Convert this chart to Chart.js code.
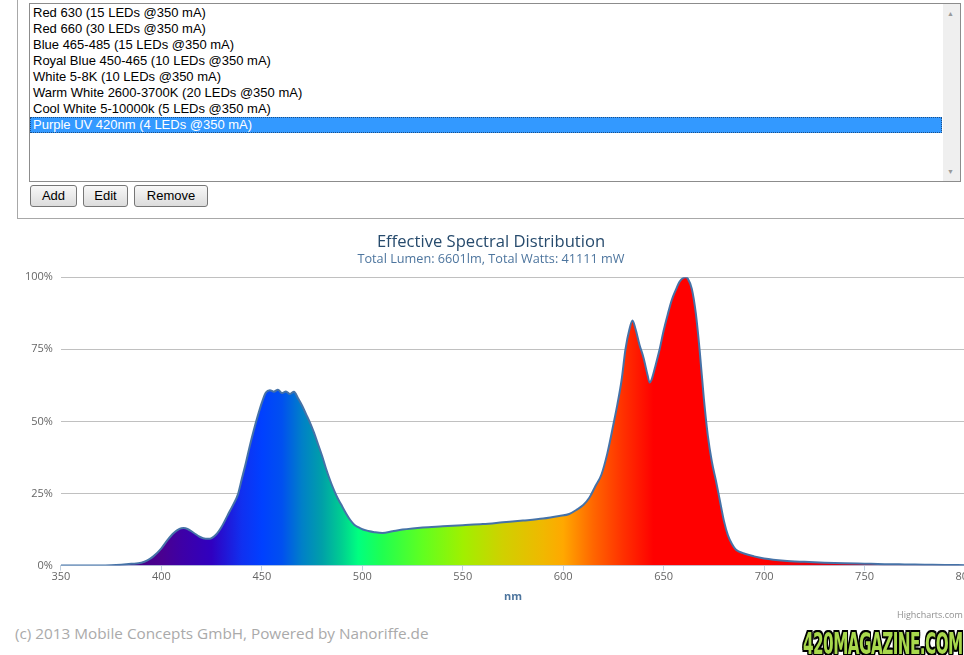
<!DOCTYPE html>
<html>
<head>
<meta charset="utf-8">
<script src="https://cdn.jsdelivr.net/npm/chart.js@4/dist/chart.umd.min.js"></script>
<style>
  html, body { margin: 0; padding: 0; width: 964px; height: 655px; overflow: hidden; background: #fff; }
  body { position: relative; font-family: "Liberation Sans", Arial, sans-serif; }
  .frame { position: absolute; left: 17px; top: -10px; width: 1000px; height: 227px; border: 1px solid #a8a8a8; }
  .listbox { position: absolute; left: 29px; top: 3px; width: 930px; height: 177px; border: 1px solid #8c8c8c; background: #fff; }
  .item { position: absolute; left: 0; width: 912px; height: 16px; line-height: 16px; font-size: 13px; color: #000; padding-left: 3px; white-space: nowrap; box-sizing: border-box; }
  .item.sel { background: #3399ff; color: #fff; border: 1px dotted #1d4f86; line-height: 14px; padding-left: 2px; }
  .scroll { position: absolute; right: 0; top: 0; width: 17px; height: 177px; background: #efefef; }
  .scroll span { position: absolute; left: 4px; font-size: 7px; color: #999; }
  .btn { position: absolute; top: 185px; height: 22px; box-sizing: border-box; border: 1px solid #767676; border-radius: 3px;
         background: linear-gradient(#f8f8f8, #dcdcdc); font-size: 13px; line-height: 20px; text-align: center; color: #000; }
  #wrap { position: absolute; left: 0; top: 226px; width: 990px; height: 394px; }
  .credits { position: absolute; left: 897px; top: 608px; font: 9px "Open Sans", sans-serif; color: #909090; white-space: nowrap; }
  .footer { position: absolute; left: 15px; top: 623px; font: 15.3px "Open Sans", sans-serif; color: #aaa; white-space: nowrap; }
  .logo { position: absolute; left: 803px; top: 626px; font: bold 30px "DejaVu Sans Condensed", "Liberation Sans Narrow", sans-serif;
          color: #a8d84c; letter-spacing: -1px; transform-origin: 0 0; transform: scaleX(0.565);
          text-shadow: -2px 0 #000, 2px 0 #000, 0 -2px #000, 0 2px #000, -2px -2px #000, 2px 2px #000, -2px 2px #000, 2px -2px #000; white-space: nowrap; }
</style>
</head>
<body>
<div class="frame"></div>
<div class="listbox" id="list">
  <div class="scroll"><span style="top:6px">&#9650;</span><span style="bottom:6px">&#9660;</span></div>
</div>
<div class="btn" style="left:30px;width:47px">Add</div>
<div class="btn" style="left:83px;width:45px">Edit</div>
<div class="btn" style="left:134px;width:74px">Remove</div>

<div id="wrap"><canvas id="spectrum" width="990" height="394"></canvas></div>
<div class="credits">Highcharts.com</div>
<div class="footer">(c) 2013 Mobile Concepts GmbH, Powered by Nanoriffe.de</div>
<div class="logo">420MAGAZINE.COM</div>

<script>
// LED list shown above the chart
const leds = [
  'Red 630 (15 LEDs @350 mA)',
  'Red 660 (30 LEDs @350 mA)',
  'Blue 465-485 (15 LEDs @350 mA)',
  'Royal Blue 450-465 (10 LEDs @350 mA)',
  'White 5-8K (10 LEDs @350 mA)',
  'Warm White 2600-3700K (20 LEDs @350 mA)',
  'Cool White 5-10000k (5 LEDs @350 mA)',
  'Purple UV 420nm (4 LEDs @350 mA)',
];
const selectedLed = 7;

// spectrum (nm / % of max)
const wavelengths = [350, 360, 370, 375, 380, 385, 390, 393, 396, 400, 403, 406, 409, 411, 413, 416, 419, 422, 424, 427,
  430, 433, 436, 438, 440, 442, 444, 446, 448, 450, 452, 454, 456, 458, 460, 462, 464, 466, 468, 470,
  472, 474, 476, 478, 480, 482, 484, 486, 488, 490, 492, 494, 496, 498, 500, 503, 506, 510, 515, 520,
  525, 530, 540, 550, 560, 570, 580, 590, 598, 603, 607, 610, 613, 616, 619, 622, 625, 627, 629, 631,
  633, 634.5, 636, 638, 640, 642, 643, 644, 646, 648, 650, 652, 654, 656, 658, 660, 661, 662, 664, 666,
  668, 670, 672, 674, 676, 678, 680, 682, 684, 686, 690, 695, 700, 710, 720, 730, 740, 750, 760, 770,
  780, 790, 800];
const intensity = [0, 0, 0, 0.1, 0.3, 0.6, 1.0, 1.8, 3.2, 6.0, 8.8, 11.2, 12.7, 13.0, 12.7, 11.4, 10.0, 9.3, 9.3, 10.6,
  13.5, 17.5, 21.5, 24.5, 30, 35.5, 41.5, 47, 52, 56.5, 60, 60.8, 60.3, 61, 59.8, 60.4, 59.5, 60.3, 58, 55.5,
  52.5, 49.5, 46, 42, 38, 33.5, 29.5, 26, 23, 20.5, 18, 15.8, 14.2, 13.3, 12.6, 12, 11.6, 11.3, 11.9, 12.5,
  12.9, 13.2, 13.6, 14, 14.4, 15, 15.6, 16.3, 17.2, 17.9, 19.5, 21, 23.5, 27.5, 31.5, 39, 49, 56, 64, 75,
  82, 85, 82, 76.5, 72, 66, 63.5, 64.5, 69.5, 75, 81.5, 87, 92, 95.5, 98.5, 99.8, 100, 99.5, 96, 87.5,
  74, 58, 45, 36, 29.5, 22.5, 15.5, 10.5, 7.5, 5.5, 4.2, 3.2, 2.5, 1.7, 1.3, 1.0, 0.8, 0.65, 0.5, 0.4,
  0.3, 0.2, 0.15];

const titleText = 'Effective Spectral Distribution';
const subtitleText = 'Total Lumen: 6601lm, Total Watts: 41111 mW';

// colour of the fill per wavelength
const spectrumStops = [
  [350, '#3a0070'], [400, '#4a0090'], [410, '#3e00a6'], [425, '#3000c0'], [440, '#1030f0'],
  [450, '#0040ff'], [460, '#0050f0'], [470, '#0080c8'], [480, '#00a0a8'], [490, '#00d090'],
  [498, '#00ff80'], [510, '#20ff50'], [530, '#60ff20'], [550, '#a0f000'], [570, '#d0d000'],
  [590, '#f0b800'], [600, '#ffa800'], [615, '#ff6600'], [630, '#ff3000'], [645, '#ff0000'],
  [700, '#ff0000'], [730, '#e00010'], [800, '#a00040'],
];

const list = document.getElementById('list');
leds.forEach((name, i) => {
  const d = document.createElement('div');
  d.className = 'item' + (i === selectedLed ? ' sel' : '');
  d.style.top = (1 + i * 16) + 'px';
  d.textContent = name;
  list.appendChild(d);
});

function spectrumFill(context) {
  const chart = context.chart;
  const x = chart.scales.x;
  if (!chart.chartArea || !x) return '#ff0000';
  const x0 = x.getPixelForValue(350), x1 = x.getPixelForValue(800);
  const g = chart.ctx.createLinearGradient(x0, 0, x1, 0);
  spectrumStops.forEach(([nm, col]) => g.addColorStop((nm - 350) / 450, col));
  return g;
}

new Chart(document.getElementById('spectrum'), {
  type: 'line',
  data: {
    datasets: [{
      data: wavelengths.map((nm, i) => ({ x: nm, y: intensity[i] })),
      borderColor: '#4572A7',
      borderWidth: 2,
      backgroundColor: spectrumFill,
      fill: 'origin',
      pointRadius: 0,
      cubicInterpolationMode: 'monotone',
    }],
  },
  options: {
    responsive: false,
    animation: false,
    layout: { padding: { left: 17, right: 25, top: 0, bottom: 17 } },
    plugins: {
      legend: { display: false },
      tooltip: { enabled: false },
      title: {
        display: true, text: titleText, color: '#274b6d',
        font: { family: 'Open Sans', size: 16.6, weight: 'normal' },
        padding: { top: 6, bottom: 0 },
      },
      subtitle: {
        display: true, text: subtitleText, color: '#4d759e',
        font: { family: 'Open Sans', size: 12.7 },
        padding: { top: 0, bottom: 10 },
      },
    },
    scales: {
      x: {
        type: 'linear', min: 350, max: 800,
        ticks: { stepSize: 50, color: '#666', font: { family: 'Open Sans', size: 11 }, padding: 0, maxRotation: 0 },
        grid: { drawOnChartArea: false, drawTicks: true, tickLength: 5, color: '#C0D0E0' },
        border: { color: '#C0D0E0' },
        title: { display: true, text: 'nm', color: '#4d759e', font: { family: 'Open Sans', size: 11, weight: 'bold' }, padding: { top: 6, bottom: 0 } },
      },
      y: {
        min: 0, max: 100,
        ticks: { stepSize: 25, color: '#666', font: { family: 'Open Sans', size: 11 }, padding: 8, callback: v => v + '%' },
        grid: { color: '#C0C0C0', drawTicks: false },
        border: { display: false },
      },
    },
  },
});
</script>
</body>
</html>
